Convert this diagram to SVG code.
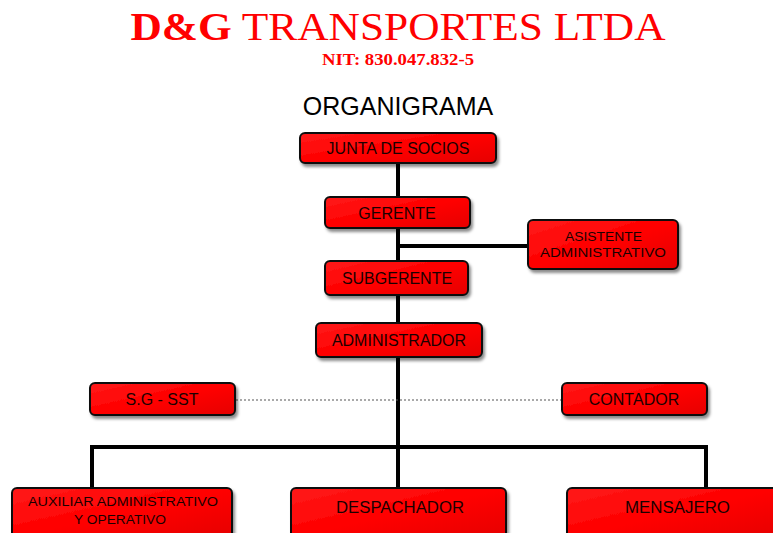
<svg xmlns="http://www.w3.org/2000/svg" width="773" height="533" viewBox="0 0 773 533">
<defs>
<linearGradient id="rg" x1="0" y1="0" x2="1" y2="1">
<stop offset="0" stop-color="#ff1a1a"/>
<stop offset="0.5" stop-color="#ff0000"/>
<stop offset="1" stop-color="#e60000"/>
</linearGradient>
<filter id="sh" x="-10%" y="-20%" width="120%" height="150%">
<feDropShadow dx="2" dy="3" stdDeviation="1.5" flood-color="#000" flood-opacity="0.45"/>
</filter>
</defs>
<style>
.box{fill:url(#rg);stroke:#111;stroke-width:2;filter:url(#sh)}
.lbl{font-family:"Liberation Sans",Arial,sans-serif;font-size:16px;fill:#1a0000;text-anchor:middle}
.sm{font-size:15px}
.xs{font-size:13.5px}
.st{text-anchor:start}
.ln{stroke:#000;stroke-width:4;fill:none}
.dot{stroke:#555;stroke-width:1.2;stroke-dasharray:2 2;fill:none}
</style>
<rect width="773" height="533" fill="#fff"/>
<text x="398" y="40" font-family="Liberation Serif,'Times New Roman',serif" font-size="41" fill="#ff0000" text-anchor="middle" textLength="535" lengthAdjust="spacingAndGlyphs"><tspan font-weight="bold">D&amp;G</tspan> TRANSPORTES LTDA</text>
<text x="322" y="65" font-family="Liberation Serif,'Times New Roman',serif" font-size="17" font-weight="bold" fill="#ff0000" textLength="152" lengthAdjust="spacingAndGlyphs">NIT: 830.047.832-5</text>
<text x="398" y="115" font-family="Liberation Sans,Arial,sans-serif" font-size="25" fill="#000" text-anchor="middle">ORGANIGRAMA</text>
<g id="connectors">
<path class="ln" d="M398 162V488"/>
<path class="ln" d="M398 246H528"/>
<path class="ln" d="M92 490V447H706V490"/>
<path class="dot" d="M236 400H562"/>
</g>
<g id="junta"><rect class="box" x="300" y="133" width="196" height="30" rx="5"/><text class="lbl" x="398" y="154">JUNTA DE SOCIOS</text></g>
<g id="gerente"><rect class="box" x="325" y="197" width="145" height="31" rx="5"/><text class="lbl" x="397" y="219">GERENTE</text></g>
<g id="asistente"><rect class="box" x="528" y="220" width="150" height="49" rx="5"/><text class="lbl xs st" x="565" y="241" textLength="77" lengthAdjust="spacingAndGlyphs">ASISTENTE</text><text class="lbl xs st" x="540" y="257" textLength="126" lengthAdjust="spacingAndGlyphs">ADMINISTRATIVO</text></g>
<g id="subgerente"><rect class="box" x="325" y="261" width="143" height="34" rx="5"/><text class="lbl" x="397" y="284">SUBGERENTE</text></g>
<g id="administrador"><rect class="box" x="316" y="323" width="166" height="34" rx="5"/><text class="lbl" x="399" y="346">ADMINISTRADOR</text></g>
<g id="sgsst"><rect class="box" x="90" y="383" width="145" height="32" rx="5"/><text class="lbl" x="162" y="405">S.G - SST</text></g>
<g id="contador"><rect class="box" x="562" y="383" width="145" height="32" rx="5"/><text class="lbl" x="634" y="405">CONTADOR</text></g>
<g id="auxiliar"><rect class="box" x="12" y="488" width="220" height="50" rx="5"/><text class="lbl xs st" x="28" y="506" textLength="190" lengthAdjust="spacingAndGlyphs">AUXILIAR ADMINISTRATIVO</text><text class="lbl xs st" x="74" y="524" textLength="92" lengthAdjust="spacingAndGlyphs">Y OPERATIVO</text></g>
<g id="despachador"><rect class="box" x="291" y="488" width="215" height="50" rx="5"/><text class="lbl st" x="336" y="513" textLength="128" lengthAdjust="spacingAndGlyphs">DESPACHADOR</text></g>
<g id="mensajero"><rect class="box" x="567" y="488" width="215" height="50" rx="5"/><text class="lbl st" x="625" y="513" textLength="105" lengthAdjust="spacingAndGlyphs">MENSAJERO</text></g>
</svg>
